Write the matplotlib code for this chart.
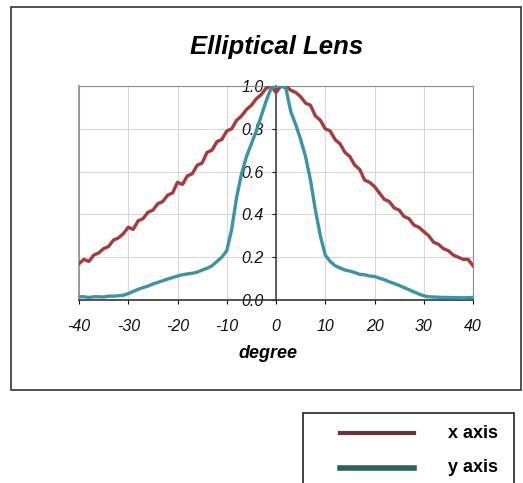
import matplotlib
matplotlib.use("Agg")
import matplotlib.pyplot as plt
from matplotlib.lines import Line2D
from matplotlib.patches import Rectangle

plt.rcParams["font.family"] = ["Liberation Sans", "DejaVu Sans"]

DEGREES = list(range(-40, 41))
X_AXIS = [
    0.17, 0.19, 0.18, 0.21, 0.22, 0.24, 0.25, 0.28, 0.29, 0.31,
    0.34, 0.33, 0.37, 0.38, 0.41, 0.42, 0.45, 0.46, 0.49, 0.50,
    0.55, 0.54, 0.58, 0.59, 0.63, 0.64, 0.69, 0.70, 0.74, 0.75,
    0.79, 0.80, 0.84, 0.86, 0.89, 0.91, 0.94, 0.96, 0.99, 1.00,
    0.97,
    1.00, 1.00, 0.98, 0.97, 0.95, 0.92, 0.91, 0.86, 0.84, 0.80,
    0.79, 0.75, 0.73, 0.69, 0.67, 0.63, 0.61, 0.56, 0.55, 0.53,
    0.50, 0.47, 0.46, 0.43, 0.42, 0.39, 0.38, 0.35, 0.34, 0.32,
    0.30, 0.27, 0.26, 0.24, 0.23, 0.21, 0.20, 0.19, 0.19, 0.16,
]
Y_AXIS = [
    0.015, 0.015, 0.012, 0.015, 0.015, 0.014, 0.018, 0.018, 0.020, 0.022,
    0.030, 0.040, 0.050, 0.058, 0.065, 0.075, 0.082, 0.090, 0.098, 0.105,
    0.112, 0.118, 0.122, 0.125, 0.130, 0.140, 0.148, 0.160, 0.180, 0.200,
    0.230, 0.330, 0.480, 0.590, 0.670, 0.730, 0.790, 0.860, 0.930, 0.990,
    1.000,
    1.000, 0.990, 0.880, 0.820, 0.750, 0.670, 0.560, 0.420, 0.300, 0.210,
    0.180, 0.160, 0.150, 0.140, 0.135, 0.128, 0.120, 0.118, 0.112, 0.110,
    0.102, 0.095, 0.085, 0.077, 0.068, 0.058, 0.048, 0.038, 0.028, 0.020,
    0.015, 0.014, 0.013, 0.012, 0.012, 0.011, 0.011, 0.010, 0.011, 0.012,
]
X_TICKS = [-40, -30, -20, -10, 0, 10, 20, 30, 40]
Y_TICKS = [0.0, 0.2, 0.4, 0.6, 0.8, 1.0]
SERIES_NAMES = ["x axis", "y axis"]

RED = "#a53b3b"
TEAL = "#3a94a6"

fig = plt.figure(figsize=(5.23, 4.83), dpi=100)
W, H = 523, 483

# outer chart frame
fig.patches.append(Rectangle((11 / W, 1 - 390 / H), 510 / W, 383 / H,
                             transform=fig.transFigure, fill=False,
                             edgecolor="#333333", lw=1.2))

ax = fig.add_axes([79 / W, 1 - 300 / H, 394 / W, 214 / H])
ax.plot(DEGREES, X_AXIS, color=RED, lw=2.4, zorder=3)
ax.plot(DEGREES, Y_AXIS, color=TEAL, lw=2.4, zorder=3)

ax.set_xlim(-40, 40)
ax.set_ylim(0, 1)
ax.set_xticks(X_TICKS)
ax.set_yticks(Y_TICKS)
ax.set_xticklabels([str(t) for t in X_TICKS])
ax.set_yticklabels([f"{t:.1f}" for t in Y_TICKS])
ax.grid(True, color="#d9d9d9", lw=0.8)
ax.set_axisbelow(True)

for side in ("top", "right"):
    ax.spines[side].set_color("#8c8c8c")
ax.spines["bottom"].set_color("#333333")
ax.spines["bottom"].set_linewidth(1.2)
ax.spines["left"].set_position(("data", 0))
ax.spines["left"].set_color("#444444")
ax.spines["left"].set_linewidth(1.2)
ax.axvline(-40, color="#8c8c8c", lw=1.2, zorder=1, clip_on=False)

ax.tick_params(axis="x", length=3, pad=11, labelsize=11.5, colors="#111111")
ax.tick_params(axis="y", length=3, pad=6, labelsize=11.5, colors="#111111")
for lab in ax.get_xticklabels() + ax.get_yticklabels():
    lab.set_fontstyle("italic")

fig.text(0.528, 1 - 47 / H, "Elliptical Lens", ha="center", va="center",
         fontsize=18.5, fontweight="bold", fontstyle="italic")
fig.text(0.512, 1 - 353 / H, "degree", ha="center", va="center",
         fontsize=13, fontweight="bold", fontstyle="italic")

# legend box (extends past the bottom of the image)
fig.patches.append(Rectangle((303 / W, 1 - 500 / H), 211 / W, 87 / H,
                             transform=fig.transFigure, fill=False,
                             edgecolor="#222222", lw=1.2))
legend_colors = ["#6e3434", "#2b5f66"]
for i, (name, col) in enumerate(zip(SERIES_NAMES, legend_colors)):
    yy = 1 - (433 + 35 * i) / H
    fig.lines.append(Line2D([340 / W, 414 / W], [yy, yy], color=col,
                            lw=3.0 + 1.0 * i, transform=fig.transFigure))
    fig.text(448 / W, yy, name, ha="left", va="center", fontsize=13,
             fontweight="bold")

fig.savefig("out.png", dpi=100)
